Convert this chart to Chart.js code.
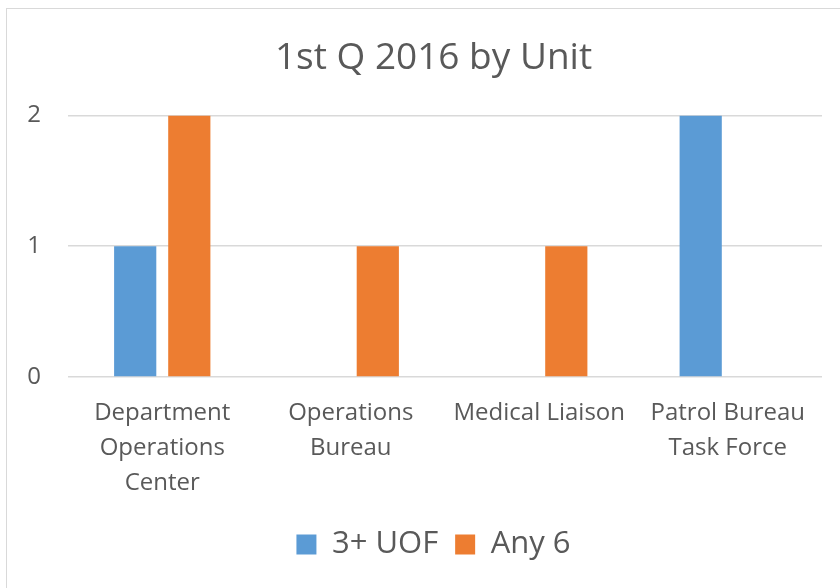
<!DOCTYPE html>
<html>
<head>
<meta charset="utf-8">
<script src="https://cdn.jsdelivr.net/npm/chart.js@4"></script>
<style>
  html, body { margin: 0; padding: 0; background: #fff; overflow: hidden; }
  #wrap { position: relative; width: 840px; height: 588px; }
  #frame { position: absolute; left: 6px; top: 8px; width: 900px; height: 700px; border: 1px solid #d9d9d9; box-sizing: border-box; }
  canvas { position: absolute; left: 0; top: 0; }
</style>
</head>
<body>
<div id="wrap">
  <div id="frame"></div>
  <canvas id="unitChart" width="840" height="588"></canvas>
</div>
<script>
/* ========= DATA ========= */
const units = [
  ["Department", "Operations", "Center"],
  ["Operations", "Bureau"],
  ["Medical Liaison"],
  ["Patrol Bureau", "Task Force"]
];
const uof3 = [1, 0, 0, 2];
const any6 = [2, 1, 1, 0];
const yTicks = [0, 1, 2];

const textColor = "#595959";
const gridColor = "#d9d9d9";
const fontFam = "'Open Sans', sans-serif";

/* ========= CHART ========= */
new Chart(document.getElementById("unitChart"), {
  type: "bar",
  data: {
    labels: units,
    datasets: [
      { label: "3+ UOF", data: uof3, backgroundColor: "#5B9BD5", barPercentage: 0.78, categoryPercentage: 0.574 },
      { label: "Any 6", data: any6, backgroundColor: "#ED7D31", barPercentage: 0.78, categoryPercentage: 0.574 }
    ]
  },
  options: {
    responsive: false,
    animation: false,
    layout: { padding: { left: 27, right: 0, top: 10, bottom: 18 } },
    plugins: {
      title: {
        display: true,
        text: "1st Q 2016 by Unit",
        color: textColor,
        font: { family: fontFam, size: 37, weight: "normal", lineHeight: 1.2 },
        padding: { top: 26, bottom: 35 }
      },
      legend: {
        position: "bottom",
        labels: {
          color: textColor,
          font: { family: fontFam, size: 31 },
          boxWidth: 20,
          boxHeight: 20,
          padding: 17
        }
      },
      tooltip: { enabled: false }
    },
    scales: {
      x: {
        grid: { display: false },
        border: { display: false },
        ticks: {
          color: textColor,
          font: { family: fontFam, size: 24, lineHeight: 1.46 },
          padding: 11,
          maxRotation: 0
        },
        // keep the plot area where the reference has it
        afterFit: (s) => { s.paddingLeft = 0; s.paddingRight = 18; }
      },
      y: {
        min: 0,
        max: 2,
        afterBuildTicks: (axis) => { axis.ticks = yTicks.map(v => ({ value: v })); },
        afterFit: (s) => { s.width = 41; },
        grid: { color: gridColor, lineWidth: 1.5, drawTicks: false },
        border: { display: false },
        ticks: {
          color: textColor,
          font: { family: fontFam, size: 24 },
          padding: 27
        }
      }
    }
  }
});
</script>
</body>
</html>
